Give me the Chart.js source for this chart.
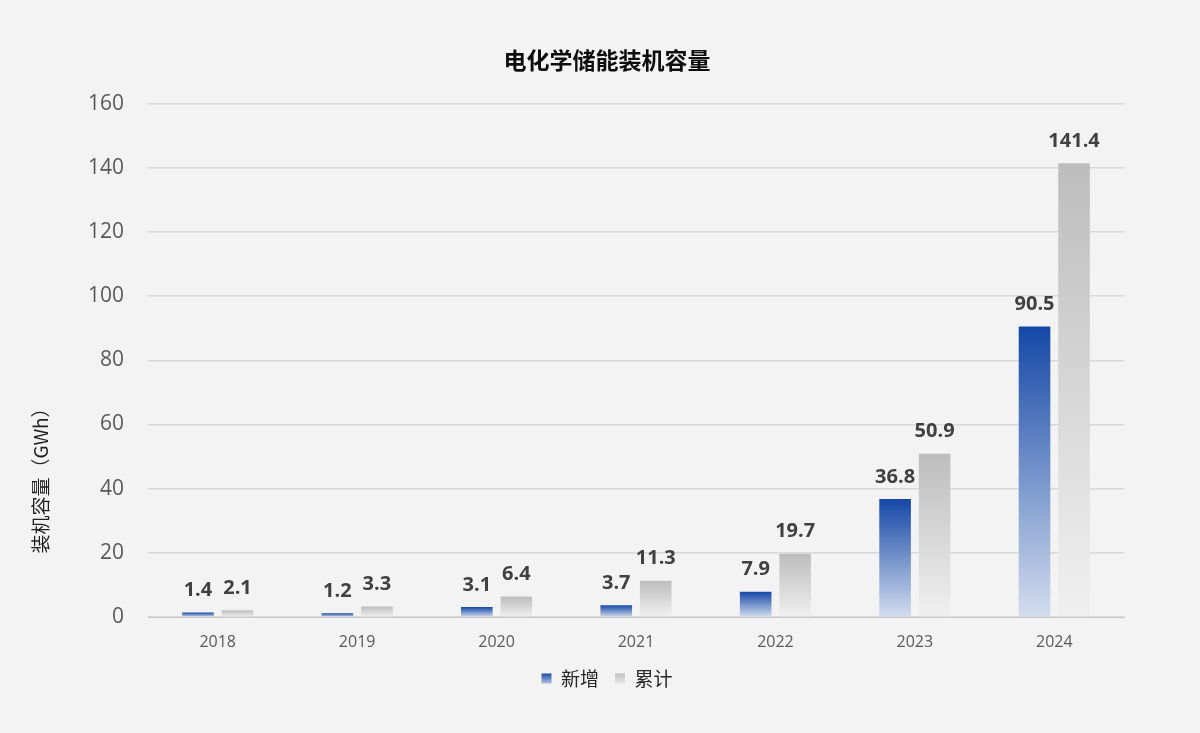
<!DOCTYPE html>
<html>
<head>
<meta charset="utf-8">
<script src="https://cdn.jsdelivr.net/npm/chart.js@4/dist/chart.umd.min.js"></script>
<style>
html,body{margin:0;padding:0;background:#f3f3f3;}
#wrap{width:1200px;height:733px;position:relative;}
</style>
</head>
<body>
<div id="wrap"><canvas id="c" width="1200" height="733"></canvas></div>
<script>
const categories = ['2018','2019','2020','2021','2022','2023','2024'];
const addedValues = [1.4, 1.2, 3.1, 3.7, 7.9, 36.8, 90.5];
const cumulativeValues = [2.1, 3.3, 6.4, 11.3, 19.7, 50.9, 141.4];
const seriesNames = ['新增', '累计'];
const yTicks = [0, 20, 40, 60, 80, 100, 120, 140, 160];
const chartTitle = '电化学储能装机容量';
const yTitle = '装机容量（GWh）';

const FONT = '"Open Sans", "Noto Sans CJK SC", sans-serif';
const CJK = '"Noto Sans CJK SC", "Open Sans", sans-serif';

const BLUE = ['#1447a6', '#d3ddee'];
const GRAY = ['#bdbdbd', '#f0f0f0'];

function makeFill(cols, solid) {
  return function(ctx) {
    const chart = ctx.chart;
    if (!chart.chartArea || ctx.type !== 'data') return solid;
    const ys = chart.scales.y;
    const top = ys.getPixelForValue(ctx.raw);
    const bottom = ys.getPixelForValue(0);
    if (bottom - top < 1) return cols[0];
    const g = chart.ctx.createLinearGradient(0, top, 0, bottom);
    g.addColorStop(0, cols[0]);
    g.addColorStop(1, cols[1]);
    return g;
  };
}

const bgPlugin = {
  id: 'bg',
  beforeDraw(chart) {
    const c = chart.ctx;
    c.save();
    c.fillStyle = '#f3f3f3';
    c.fillRect(0, 0, chart.width, chart.height);
    c.restore();
  }
};

const labelPlugin = {
  id: 'vlabels',
  afterDatasetsDraw(chart) {
    const c = chart.ctx;
    c.save();
    c.font = 'bold 20px ' + FONT;
    c.fillStyle = '#404040';
    c.textAlign = 'center';
    c.textBaseline = 'bottom';
    chart.data.datasets.forEach((ds, i) => {
      const meta = chart.getDatasetMeta(i);
      meta.data.forEach((bar, j) => {
        c.fillText(ds.data[j].toFixed(1), bar.x, bar.y - 12);
      });
    });
    c.restore();
  }
};

const yTitlePlugin = {
  id: 'ytitle',
  afterDraw(chart) {
    const c = chart.ctx;
    c.save();
    c.translate(41, 476);
    c.rotate(-Math.PI / 2);
    c.font = '19px ' + CJK;
    c.fillStyle = '#1f1f1f';
    c.textAlign = 'center';
    c.textBaseline = 'middle';
    c.fillText(yTitle, 0, 0);
    c.restore();
  }
};

new Chart(document.getElementById('c'), {
  type: 'bar',
  data: {
    labels: categories,
    datasets: [
      {
        label: seriesNames[0],
        data: addedValues,
        backgroundColor: makeFill(BLUE, '#2a5db5'),
        categoryPercentage: 0.567,
        barPercentage: 0.8
      },
      {
        label: seriesNames[1],
        data: cumulativeValues,
        backgroundColor: makeFill(GRAY, '#c8c8c8'),
        categoryPercentage: 0.567,
        barPercentage: 0.8
      }
    ]
  },
  options: {
    responsive: false,
    animation: false,
    devicePixelRatio: 1,
    layout: { padding: { left: 90, right: 76, top: 0, bottom: 35 } },
    plugins: {
      title: {
        display: true,
        text: chartTitle,
        color: '#0d0d0d',
        font: { family: CJK, size: 23, weight: 'bold' },
        padding: { top: 46, bottom: 30 }
      },
      legend: {
        position: 'bottom',
        labels: {
          boxWidth: 10,
          boxHeight: 10,
          padding: 16,
          color: '#262626',
          font: { family: CJK, size: 19 },
          generateLabels(chart) {
            const sets = [BLUE, GRAY];
            return chart.data.datasets.map((ds, i) => {
              const g = chart.ctx.createLinearGradient(0, 673, 0, 686);
              g.addColorStop(0, sets[i][0]);
              g.addColorStop(1, sets[i][1]);
              return {
                text: ds.label,
                fillStyle: g,
                strokeStyle: 'rgba(0,0,0,0)',
                lineWidth: 0,
                hidden: false,
                datasetIndex: i,
                fontColor: '#262626'
              };
            });
          }
        }
      },
      tooltip: { enabled: false }
    },
    scales: {
      x: {
        grid: { display: false, drawTicks: false },
        border: { display: true, color: '#c8c8c8', width: 1 },
        ticks: { color: '#595959', font: { family: FONT, size: 16 }, padding: 16 },
        afterFit(s) { s.height = 36; }
      },
      y: {
        min: 0,
        max: 160,
        afterBuildTicks(s) { s.ticks = yTicks.map(v => ({ value: v })); },
        grid: { color: '#d9d9d9', lineWidth: 1.5, drawTicks: false },
        border: { display: false },
        ticks: { color: '#595959', font: { family: FONT, size: 21 }, padding: 24 },
        afterFit(s) { s.width = 58; }
      }
    }
  },
  plugins: [bgPlugin, labelPlugin, yTitlePlugin]
});
</script>
</body>
</html>
